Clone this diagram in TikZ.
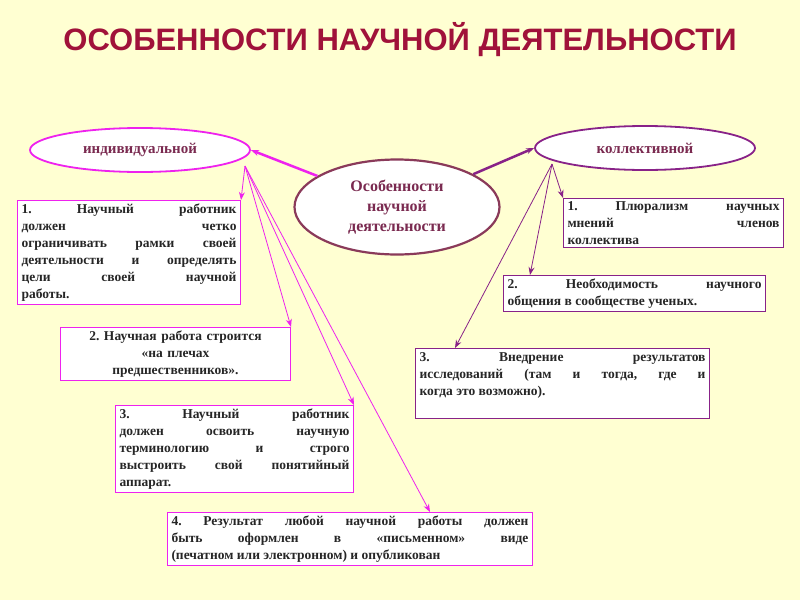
\documentclass[tikz,border=0pt]{standalone}
\usepackage{fontspec}
\setmainfont{Liberation Serif}
\newfontfamily\titlefont{Liberation Sans}
\usetikzlibrary{shapes.geometric,arrows.meta}
\definecolor{bg}{HTML}{FFFFD2}
\definecolor{mag}{HTML}{EE22EE}
\definecolor{pur}{HTML}{882288}
\definecolor{ttl}{HTML}{A0123A}
\definecolor{txt}{HTML}{7A2A50}
\definecolor{ctr}{HTML}{8A3A5A}
\frenchspacing
\tikzset{
 box/.style={draw=#1,fill=white,line width=1pt,anchor=north west,inner xsep=4pt,inner ysep=3pt,align=justify,
   font=\fontsize{13.5}{17}\selectfont\bfseries\frenchspacing,text=black!85},
 oval/.style={ellipse,draw=#1,fill=white,line width=1.8pt,minimum width=220pt,minimum height=44pt,
   font=\fontsize{15}{17}\selectfont\bfseries,text=txt},
 con/.style={draw=#1,line width=0.8pt,-{Stealth[length=8pt,width=6pt]}},
}
\begin{document}
\begin{tikzpicture}[x=1pt,y=-1pt]
\fill[bg] (0,0) rectangle (800,600);
\useasboundingbox (0,0) rectangle (800,600);
\node[text=ttl,font=\titlefont\fontsize{31}{35}\selectfont\bfseries] (t) at (400,40) {ОСОБЕННОСТИ НАУЧНОЙ ДЕЯТЕЛЬНОСТИ};
\node[oval=mag] (L) at (140,150) {индивидуальной};
\node[oval=pur] (R) at (645,148) {коллективной};
\node[ellipse,draw=ctr,fill=white,line width=2.2pt,minimum width=205pt,minimum height=95pt,inner sep=0pt,align=center,
  font=\fontsize{16}{20}\selectfont\bfseries,text=txt] (C) at (397,207) {Особенности\\научной\\деятельности};
\node[box=mag,text width=215pt] (b1) at (17,200) {1. Научный работник\linebreak должен четко\linebreak ограничивать рамки своей\linebreak деятельности и определять\linebreak цели своей научной\linebreak работы.};
\node[box=mag,text width=222pt,align=center] (b2) at (60,327) {2. Научная работа строится\\«на плечах\\предшественников».};
\node[box=mag,text width=230pt] (b3) at (115,405) {3. Научный работник\linebreak должен освоить научную\linebreak терминологию и строго\linebreak выстроить свой понятийный\linebreak аппарат.};
\node[box=mag,text width=357pt] (b4) at (167,512) {4. Результат любой научной работы должен\linebreak быть оформлен в «письменном» виде\linebreak (печатном или электронном) и опубликован};
\node[box=pur,text width=212pt] (r1) at (563,198) {1. Плюрализм научных\linebreak мнений членов\linebreak коллектива};
\node[box=pur,text width=254pt] (r2) at (503,275) {2. Необходимость научного\linebreak общения в сообществе ученых.};
\node[box=pur,text width=286pt,inner ysep=4pt] (r3) at (415,348) {3. Внедрение результатов\linebreak исследований (там и тогда, где и\linebreak когда это возможно).\\[2pt]\mbox{}};
\coordinate (ls) at (245,166);
\coordinate (rs) at (552,164);
\draw[con=mag,line width=2.5pt] (C) -- (L.east);
\draw[con=pur,line width=2.5pt] (C) -- (R.west);
\draw[con=mag] (ls) -- (b1.north east);
\draw[con=mag] (ls) -- (b2.north east);
\draw[con=mag] (ls) -- (b3.north east);
\draw[con=mag] (ls) -- ([xshift=263pt]b4.north west);
\draw[con=pur] (rs) -- (r1.north west);
\draw[con=pur] (rs) -- ([xshift=27pt]r2.north west);
\draw[con=pur] (rs) -- ([xshift=40pt]r3.north west);
\end{tikzpicture}
\end{document}
